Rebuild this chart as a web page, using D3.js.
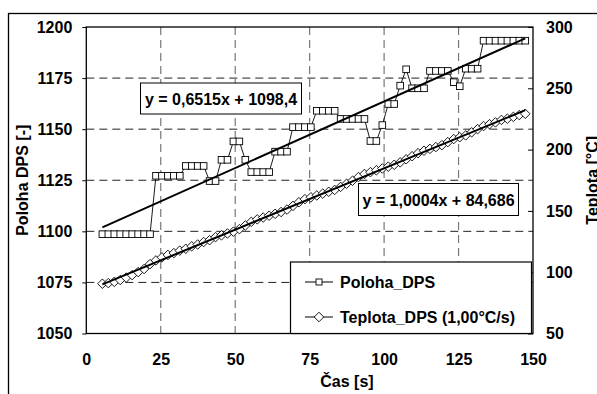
<!DOCTYPE html>
<html><head><meta charset="utf-8">
<script src="https://cdn.jsdelivr.net/npm/d3@7"></script>
<style>
html,body{margin:0;padding:0;background:#fff;overflow:hidden}
svg text{font-family:"Liberation Sans",Arial,sans-serif;font-weight:bold;font-size:16px;fill:#000}
</style></head><body>
<svg id="chart" width="597" height="394"></svg>
<script>
const times = [5.4,7.4,9.4,11.4,13.4,15.4,17.4,19.4,21.4,23.4,25.4,27.4,29.4,31.4,33.4,35.4,37.4,39.4,41.4,43.4,45.4,47.4,49.4,51.4,53.4,55.4,57.4,59.4,61.4,63.4,65.4,67.4,69.4,71.4,73.4,75.4,77.4,79.4,81.4,83.4,85.4,87.4,89.4,91.4,93.4,95.4,97.4,99.4,101.4,103.4,105.4,107.4,109.4,111.4,113.4,115.4,117.4,119.4,121.4,123.4,125.4,127.4,129.4,131.4,133.4,135.4,137.4,139.4,141.4,143.4,145.4,147.4];
const poloha = [1098.6,1098.6,1098.6,1098.6,1098.6,1098.6,1098.6,1098.6,1098.6,
  1127.2,1127.2,1127.2,1127.2,1127.2,
  1132,1132,1132,1132,
  1124.6,1124.6,
  1135,1135,
  1144,1144,
  1135,
  1129,1129,1129,1129,
  1139,1139,1139,
  1151,1151,1151,1151,
  1159,1159,1159,1159,
  1155,1155,1155,1155,1155,
  1144.2,1144.2,
  1152,
  1162.3,1162.3,
  1171.3,
  1179.3,
  1170,1170,1170,
  1178.5,1178.5,1178.5,1178.5,
  1173,1171,
  1179.6,1179.6,1179.6,
  1193.3,1193.3,1193.3,1193.3,1193.3,1193.3,1193.3,1193.3];
const teplota = [90.6,91.1,92.1,93.6,95.6,97.6,100.1,102.6,106.6,109.6,112.1,114.1,115.6,117.6,119.1,121.1,122.6,124.6,126.1,128.6,130.1,131.6,133.1,135.1,138.1,141.1,143.1,144.6,146.1,147.6,149.1,151.1,154.1,157.1,159.6,161.1,162.6,164.1,165.6,167.1,169.6,172.1,174.6,177.6,180.1,181.6,183.1,184.6,186.1,187.6,189.6,192.1,194.6,197.1,199.1,200.6,202.1,203.6,206.1,208.6,210.1,211.6,214.1,216.7,219.2,220.7,222.2,224.2,225.2,226.7,228.2,229.2];
const xTicks = [0,25,50,75,100,125,150];
const leftTicks = [1050,1075,1100,1125,1150,1175,1200];
const rightTicks = [50,100,150,200,250,300];
const trendPoloha = [0.6515, 1098.4];
const trendTeplota = [1.0004, 84.686];
const eqLabels = ["y = 0,6515x + 1098,4", "y = 1,0004x + 84,686"];
const seriesNames = ["Poloha_DPS", "Teplota_DPS (1,00°C/s)"];
const axisTitles = ["Čas [s]", "Poloha DPS [-]", "Teplota [°C]"];

const svg = d3.select("#chart");
const L = 86.3, R = 533, T = 27, B = 333.5;
const x = d3.scaleLinear().domain([0,150]).range([L,R]);
const yL = d3.scaleLinear().domain([1050,1200]).range([B,T]);
const yR = d3.scaleLinear().domain([50,300]).range([B,T]);

// outer frame
svg.append("rect").attr("x",8.5).attr("y",13.5).attr("width",620).attr("height",420)
  .attr("fill","#fff").attr("stroke","#000").attr("stroke-width",1.3);

// gridlines
svg.append("g").selectAll("line").data(leftTicks.filter(v=>v>1050&&v<1200)).join("line")
  .attr("x1",L).attr("x2",R).attr("y1",d=>yL(d)).attr("y2",d=>yL(d))
  .attr("stroke","#222").attr("stroke-width",1).attr("stroke-dasharray","8,5");
svg.append("g").selectAll("line").data(xTicks.filter(v=>v>0&&v<150)).join("line")
  .attr("x1",d=>x(d)).attr("x2",d=>x(d)).attr("y1",T).attr("y2",B)
  .attr("stroke","#777").attr("stroke-width",1.2).attr("stroke-dasharray","8,5");

// axes
const gx = svg.append("g").attr("transform",`translate(0,${B})`)
  .call(d3.axisBottom(x).tickValues(xTicks).tickSize(0).tickPadding(20).tickFormat(d3.format("d")));
const gl = svg.append("g").attr("transform",`translate(${L},0)`)
  .call(d3.axisLeft(yL).tickValues(leftTicks).tickSize(4).tickPadding(10).tickFormat(d3.format("d")));
const gr = svg.append("g").attr("transform",`translate(${R},0)`)
  .call(d3.axisRight(yR).tickValues(rightTicks).tickSize(-5).tickPadding(13).tickFormat(d3.format("d")));
[gx,gl,gr].forEach(g=>{
  g.select(".domain").remove();
  g.selectAll("line").attr("stroke","#000");
  g.selectAll("text").attr("font-size",16).attr("font-family","Liberation Sans, Arial, sans-serif").attr("font-weight","bold").attr("fill","#000");
});
gx.selectAll("text").attr("dy","0.71em").attr("y",20);

// plot border
svg.append("rect").attr("x",L).attr("y",T).attr("width",R-L).attr("height",B-T)
  .attr("fill","none").attr("stroke","#000").attr("stroke-width",1.3);

// series lines
const lineP = d3.line().x((d,i)=>x(times[i])).y(d=>yL(d));
const lineT = d3.line().x((d,i)=>x(times[i])).y(d=>yR(d));
svg.append("path").attr("d",lineT(teplota)).attr("fill","none").attr("stroke","#000").attr("stroke-width",0.9);
svg.append("path").attr("d",lineP(poloha)).attr("fill","none").attr("stroke","#000").attr("stroke-width",0.9);

// markers
const diamond = d3.symbol().type(d3.symbolDiamond2).size(58);
svg.append("g").selectAll("path").data(teplota).join("path")
  .attr("d",diamond).attr("transform",(d,i)=>`translate(${x(times[i])},${yR(d)})`)
  .attr("fill","#fff").attr("stroke","#000").attr("stroke-width",0.9);
svg.append("g").selectAll("rect").data(poloha).join("rect")
  .attr("x",(d,i)=>x(times[i])-3.3).attr("y",d=>yL(d)-3.3).attr("width",6.6).attr("height",6.6)
  .attr("fill","#fff").attr("stroke","#000").attr("stroke-width",0.9);

// trendlines
const t0 = times[0], t1 = times[times.length-1];
svg.append("line").attr("x1",x(t0)).attr("x2",x(t1))
  .attr("y1",yL(trendPoloha[0]*t0+trendPoloha[1])).attr("y2",yL(trendPoloha[0]*t1+trendPoloha[1]))
  .attr("stroke","#000").attr("stroke-width",2);
svg.append("line").attr("x1",x(t0)).attr("x2",x(t1))
  .attr("y1",yR(trendTeplota[0]*t0+trendTeplota[1])).attr("y2",yR(trendTeplota[0]*t1+trendTeplota[1]))
  .attr("stroke","#000").attr("stroke-width",2);

// equation boxes
const eqBoxes = [{x:140.5,y:83,w:161,h:31},{x:358.5,y:183.5,w:160,h:32}];
eqBoxes.forEach((b,i)=>{
  svg.append("rect").attr("x",b.x).attr("y",b.y).attr("width",b.w).attr("height",b.h)
    .attr("fill","#fff").attr("stroke","#000").attr("stroke-width",1);
  svg.append("text").attr("x",b.x+b.w/2).attr("y",b.y+b.h/2+6).attr("text-anchor","middle").text(eqLabels[i]);
});

// legend
const lg = svg.append("g");
lg.append("rect").attr("x",290.5).attr("y",262).attr("width",241).attr("height",71.5)
  .attr("fill","#fff").attr("stroke","#000").attr("stroke-width",1.2);
const ly = [282, 317];
ly.forEach((yy,i)=>{
  lg.append("line").attr("x1",305).attr("x2",333).attr("y1",yy).attr("y2",yy).attr("stroke","#000").attr("stroke-width",1);
  if(i===0){
    lg.append("rect").attr("x",316).attr("y",yy-3).attr("width",6).attr("height",6).attr("fill","#fff").attr("stroke","#000").attr("stroke-width",0.9);
  } else {
    lg.append("path").attr("d",diamond).attr("transform",`translate(319,${yy})`).attr("fill","#fff").attr("stroke","#000").attr("stroke-width",0.9);
  }
  lg.append("text").attr("x",340).attr("y",yy+6).text(seriesNames[i]);
});

// axis titles
svg.append("text").attr("x",347).attr("y",387).attr("text-anchor","middle").text(axisTitles[0]);
svg.append("text").attr("transform",`translate(28,${(T+B)/2}) rotate(-90)`).attr("text-anchor","middle").text(axisTitles[1]);
svg.append("text").attr("transform",`translate(598,${(T+B)/2}) rotate(-90)`).attr("text-anchor","middle").text(axisTitles[2]);
</script>
</body></html>
